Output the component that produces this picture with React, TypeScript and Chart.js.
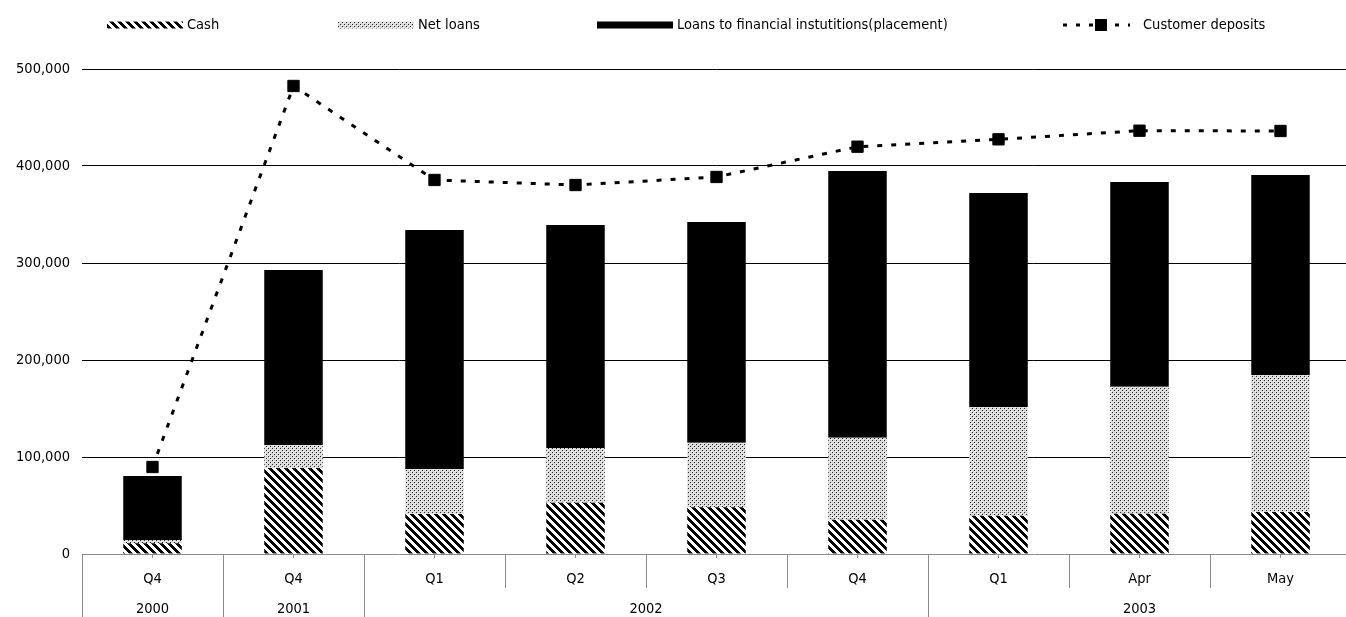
import React, { useEffect, useRef } from 'react';
import { Chart, registerables } from 'chart.js';

Chart.register(...registerables);

// ---- data ----
const quarterLabels = ['Q4', 'Q4', 'Q1', 'Q2', 'Q3', 'Q4', 'Q1', 'Apr', 'May'];
const yearLabels = ['2000', '2001', '2002', '2003'];
const yearSpans = [1, 1, 4, 3];
const cash = [11000, 88700, 41200, 52900, 48100, 35400, 39500, 41600, 43300];
const netLoans = [3500, 23700, 46400, 56400, 66700, 84500, 112000, 130900, 141200];
const placements = [65900, 180400, 246400, 229900, 227500, 274900, 220700, 211000, 206200];
const deposits = [89700, 482500, 385600, 380400, 388700, 419900, 427500, 436400, 436100];
const seriesNames = ['Cash', 'Net loans', 'Loans to financial instutitions(placement)', 'Customer deposits'];
const yMax = 500000;
const yStep = 100000;

const FONT = "'DejaVu Sans Condensed', 'DejaVu Sans', sans-serif";
const FONT_SIZE = 14.5;
const AXIS_GRAY = '#8a8a8a';

function makeHatch(): CanvasPattern {
  const c = document.createElement('canvas');
  c.width = 8; c.height = 8;
  const g = c.getContext('2d')!;
  g.fillStyle = '#fff'; g.fillRect(0, 0, 8, 8);
  g.fillStyle = '#000';
  for (let y = 0; y < 8; y++) for (let x = 0; x < 8; x++) {
    if (((x - y + 16) % 8) < 4) g.fillRect(x, y, 1, 1);
  }
  return g.createPattern(c, 'repeat')!;
}

function makeDots(): CanvasPattern {
  const c = document.createElement('canvas');
  c.width = 4; c.height = 4;
  const g = c.getContext('2d')!;
  g.fillStyle = '#d9d9d9'; g.fillRect(0, 0, 4, 4);
  g.fillStyle = '#f4f4f4';
  g.fillRect(1, 1, 1, 1);
  g.fillRect(3, 3, 1, 1);
  g.fillStyle = '#2a2a2a';
  g.fillRect(0, 0, 1, 1);
  g.fillRect(2, 2, 1, 1);
  return g.createPattern(c, 'repeat')!;
}

const decorPlugin = {
  id: 'decor',
  afterDraw(chart: any) {
    const ctx: CanvasRenderingContext2D = chart.ctx;
    const xs = chart.scales.x;
    const area = chart.chartArea;
    const c0 = xs.getPixelForValue(0);
    const step = xs.getPixelForValue(1) - c0;
    const left = c0 - step / 2;
    ctx.save();
    // category dividers
    const longIdx = new Set<number>([0]);
    let acc = 0;
    yearSpans.forEach((s) => { acc += s; longIdx.add(acc); });
    ctx.strokeStyle = AXIS_GRAY;
    ctx.lineWidth = 1;
    for (let i = 0; i <= quarterLabels.length; i++) {
      const px = Math.round(left + i * step) + 0.5;
      ctx.beginPath();
      ctx.moveTo(px, area.bottom);
      ctx.lineTo(px, longIdx.has(i) ? chart.height : area.bottom + 34);
      ctx.stroke();
    }
    // year labels
    ctx.fillStyle = '#000';
    ctx.font = `${FONT_SIZE}px ${FONT}`;
    ctx.textAlign = 'center';
    ctx.textBaseline = 'middle';
    let start = 0;
    yearLabels.forEach((lab, k) => {
      const end = start + yearSpans[k];
      const mid = left + ((start + end) / 2) * step;
      ctx.fillText(lab, mid, 609);
      start = end;
    });
    // legend
    const ly = 25;
    const lx = [107, 338, 597, 1063];
    const sw = [76, 76, 76, 67];
    const tx = [187, 418, 677, 1143];
    const ds = chart.data.datasets;
    for (let i = 0; i < 4; i++) {
      const d = ds[i];
      if (i < 3) {
        ctx.fillStyle = d.backgroundColor;
        ctx.fillRect(lx[i], ly - 3.5, sw[i], 7);
      } else {
        ctx.save();
        ctx.strokeStyle = '#000';
        ctx.lineWidth = 3;
        ctx.setLineDash([4, 9]);
        ctx.beginPath();
        ctx.moveTo(lx[i], ly);
        ctx.lineTo(lx[i] + sw[i], ly);
        ctx.stroke();
        ctx.restore();
        ctx.fillStyle = '#000';
        ctx.fillRect(1101 - 6, ly - 6, 12, 12);
      }
      ctx.fillStyle = '#000';
      ctx.textAlign = 'left';
      ctx.fillText(d.label, tx[i], ly);
    }
    ctx.restore();
  },
};

export default function App() {
  const ref = useRef<HTMLCanvasElement | null>(null);
  useEffect(() => {
    if (!ref.current) return;
    Chart.defaults.font.family = FONT;
    Chart.defaults.font.size = FONT_SIZE;
    Chart.defaults.color = '#000';
    const hatch = makeHatch();
    const dots = makeDots();
    const chart = new Chart(ref.current, {
      type: 'bar',
      data: {
        labels: quarterLabels,
        datasets: [
          { type: 'bar', label: seriesNames[0], data: cash, backgroundColor: hatch as any, borderWidth: 0, stack: 'bars', order: 1 },
          { type: 'bar', label: seriesNames[1], data: netLoans, backgroundColor: dots as any, borderWidth: 0, stack: 'bars', order: 1 },
          { type: 'bar', label: seriesNames[2], data: placements, backgroundColor: '#000', borderWidth: 0, stack: 'bars', order: 1 },
          {
            type: 'line', label: seriesNames[3], data: deposits, stack: 'line', order: 0,
            borderColor: '#000', borderWidth: 3, borderDash: [5, 9], tension: 0,
            pointStyle: 'rect', pointRadius: 8, pointBackgroundColor: '#000', pointBorderColor: '#000', pointBorderWidth: 1,
            fill: false,
          } as any,
        ],
      },
      options: {
        responsive: false,
        animation: false,
        devicePixelRatio: 1,
        layout: { padding: { top: 69, right: 4, left: 0, bottom: 0 } },
        plugins: { legend: { display: false }, tooltip: { enabled: false }, title: { display: false } },
        datasets: { bar: { barPercentage: 0.415, categoryPercentage: 1 } },
        scales: {
          x: {
            stacked: true,
            afterFit: (s: any) => { s.height = 63; },
            grid: { offset: false, drawOnChartArea: false, drawTicks: true, tickLength: 4, color: AXIS_GRAY },
            border: { display: true, color: AXIS_GRAY, width: 1 },
            ticks: { padding: 13, color: '#000', maxRotation: 0, autoSkip: false },
          },
          y: {
            stacked: true,
            min: 0,
            max: yMax,
            afterFit: (s: any) => { s.width = 82; },
            grid: {
              drawTicks: false,
              color: (c: any) => (c.tick && c.tick.value === 0 ? 'rgba(0,0,0,0)' : '#000'),
              lineWidth: 1,
            },
            border: { display: false },
            ticks: {
              stepSize: yStep,
              padding: 12,
              color: '#000',
              callback: (v: any) => Number(v).toLocaleString('en-US'),
            },
          },
        },
      },
      plugins: [decorPlugin],
    });
    return () => chart.destroy();
  }, []);
  return (
    <div style={{ position: 'fixed', left: 0, top: 0, width: 1346, height: 617, overflow: 'hidden', background: '#fff' }}>
      <canvas ref={ref} width={1360} height={617} style={{ display: 'block' }} />
    </div>
  );
}
